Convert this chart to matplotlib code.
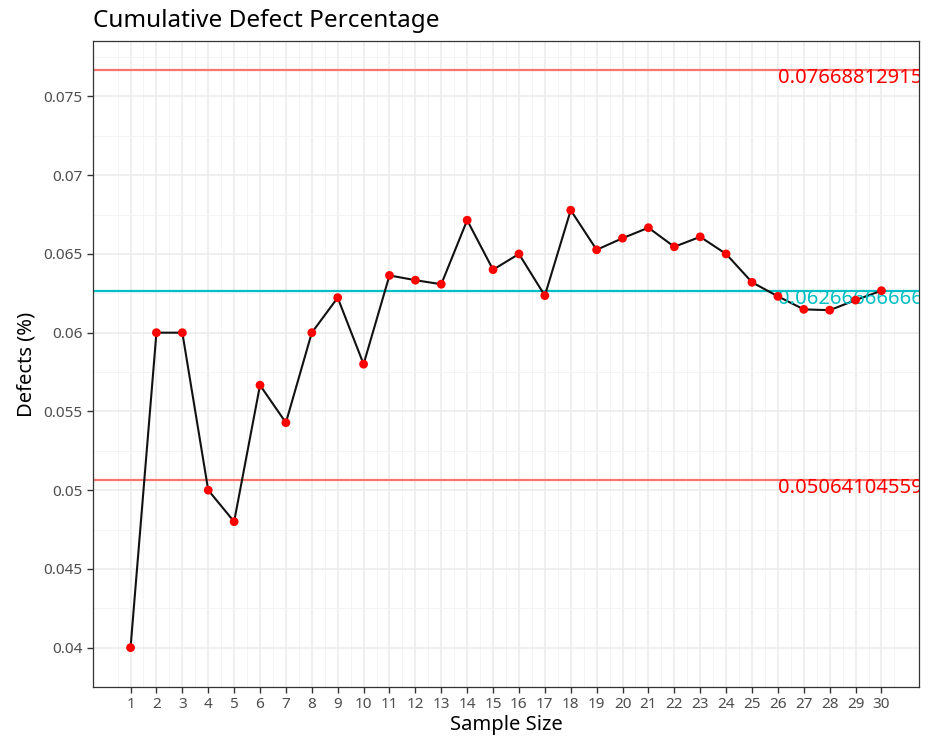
import matplotlib.pyplot as plt
import numpy as np

plt.rcParams['font.family'] = ['Noto Sans', 'DejaVu Sans']

# データ：サンプル番号と累積不良率
sample_size = np.arange(1, 31)
defects = [2, 6, 9, 10, 12, 17, 19, 24, 28, 29, 35, 38, 41, 47, 48,
           52, 53, 61, 62, 66, 70, 72, 76, 78, 79, 81, 83, 86, 90, 94]
inspected = sample_size * 50
cum_pct = np.array(defects) / inspected

ucl = 0.0766881291528486
center = 0.0626666666666667
lcl = 0.0506410455904869

fig = plt.figure(figsize=(9.39, 7.49), dpi=100)
ax = fig.add_axes([93 / 939, 1 - 687 / 749, 826 / 939, 646 / 749])

# 管理線
ax.axhline(ucl, color='#F8766D', lw=1.6, zorder=2)
ax.axhline(lcl, color='#F8766D', lw=1.6, zorder=2)
ax.axhline(center, color='#00BFC4', lw=1.6, zorder=2)

ax.plot(sample_size, cum_pct, color='#111111', lw=1.5, zorder=3)
ax.scatter(sample_size, cum_pct, s=40, color='red', edgecolors='none', zorder=4)

# 管理線の値（パネルの端で切れる）
for val, col in [(ucl, 'red'), (center, '#00BFC4'), (lcl, 'red')]:
    ax.annotate(f'{val:.16g}', xy=(26.0, val), xytext=(0, -6),
                textcoords='offset points', ha='left', va='center',
                color=col, fontsize=14.5, annotation_clip=True, clip_on=True)

ax.set_xlim(1 - 29 * 0.05, 30 + 29 * 0.05)
lo, hi = 0.04, ucl
pad = (hi - lo) * 0.05
ax.set_ylim(lo - pad, hi + pad)

ax.set_xticks(sample_size)
ax.set_xticks(np.arange(0.5, 31, 1), minor=True)
yt = [0.04, 0.045, 0.05, 0.055, 0.06, 0.065, 0.07, 0.075]
ax.set_yticks(yt)
ax.set_yticklabels(['0.04', '0.045', '0.05', '0.055', '0.06', '0.065', '0.07', '0.075'])
ax.set_yticks(np.arange(0.0375, 0.079, 0.0025), minor=True)

ax.grid(True, which='major', color='#EBEBEB', lw=1.1, zorder=0)
ax.grid(True, which='minor', color='#F3F3F3', lw=0.6, zorder=0)
ax.set_axisbelow(True)

ax.tick_params(which='major', length=4, color='#333333', labelsize=11,
               labelcolor='#4D4D4D', width=1)
ax.tick_params(which='minor', length=0)
for s in ax.spines.values():
    s.set_color('#333333')
    s.set_linewidth(0.9)

ax.set_xlabel('Sample Size', fontsize=14.5, labelpad=2)
ax.set_ylabel('Defects (%)', fontsize=14.5, labelpad=5)
ax.set_title('Cumulative Defect Percentage', fontsize=17.5, loc='left', pad=10)

plt.savefig('out.png', dpi=100)
plt.close()
